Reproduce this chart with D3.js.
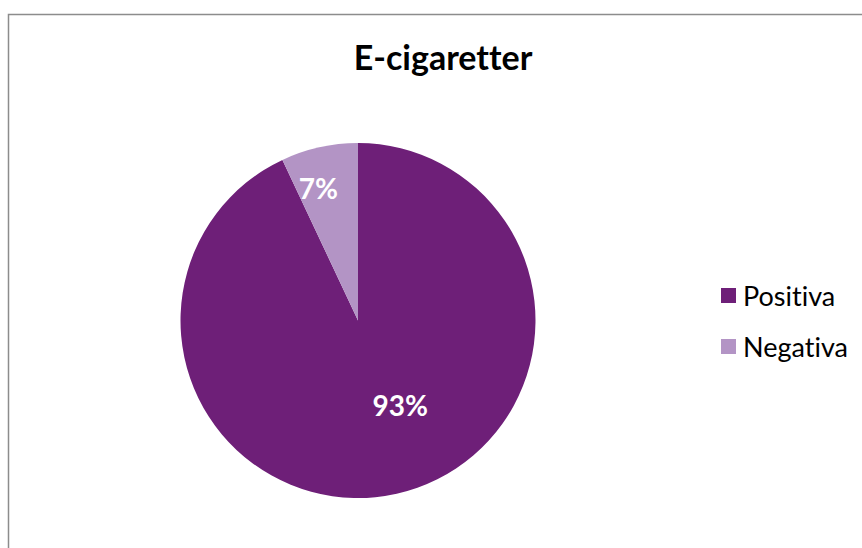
<!DOCTYPE html>
<html>
<head>
<meta charset="utf-8">
<script src="https://cdn.jsdelivr.net/npm/d3@7"></script>
<style>
  body { margin: 0; background: #fff; }
  text { font-family: Lato, "Open Sans", sans-serif; font-variant-ligatures: none; }
</style>
</head>
<body>
<div id="chart"></div>
<script>
// Chart data
const categories = ['Positiva', 'Negativa'];
const values = [93, 7];
const labels = ['93%', '7%'];
const colors = ['#6e1f78', '#b394c5'];

const width = 862, height = 548;
const cx = 358, cy = 320.5, radius = 177.5;

const svg = d3.select('#chart')
    .append('svg')
    .attr('width', width)
    .attr('height', height);

// Chart frame
svg.append('rect')
    .attr('x', 8.5)
    .attr('y', 14.5)
    .attr('width', width + 20)
    .attr('height', height + 20)
    .attr('fill', '#fff')
    .attr('stroke', '#8c8c8c')
    .attr('stroke-width', 1.5);

// Title
svg.append('text')
    .attr('x', 443)
    .attr('y', 70)
    .attr('text-anchor', 'middle')
    .style('font-weight', 'bold')
    .style('font-size', '34px')
    .style('fill', '#000')
    .text('E-cigaretter');

const pie = d3.pie().sort(null).value(d => d);
const arcs = pie(values);
const arc = d3.arc().innerRadius(0).outerRadius(radius);

const g = svg.append('g')
    .attr('transform', `translate(${cx}, ${cy})`);

g.selectAll('.slice')
    .data(arcs)
    .enter()
    .append('path')
    .attr('class', 'slice')
    .attr('d', arc)
    .attr('fill', (d, i) => colors[i]);

// Data labels (best-fit style: radius fraction + small angle nudge)
const labelRadius = [0.53, 0.78];
const labelNudge = [-14, -4]; // degrees
g.selectAll('.pie-label')
    .data(arcs)
    .enter()
    .append('text')
    .attr('class', 'pie-label')
    .attr('transform', (d, i) => {
        const a = (d.startAngle + d.endAngle) / 2 + labelNudge[i] * Math.PI / 180;
        const r = radius * labelRadius[i];
        return `translate(${Math.sin(a) * r}, ${-Math.cos(a) * r})`;
    })
    .attr('text-anchor', 'middle')
    .attr('dominant-baseline', 'central')
    .style('font-weight', 'bold')
    .style('font-size', '28px')
    .style('fill', '#fff')
    .text((d, i) => labels[i]);

// Legend
const legend = svg.append('g')
    .attr('transform', 'translate(721, 288)');

const item = legend.selectAll('.legend-item')
    .data(categories)
    .enter()
    .append('g')
    .attr('class', 'legend-item')
    .attr('transform', (d, i) => `translate(0, ${i * 51})`);

item.append('rect')
    .attr('width', 15)
    .attr('height', 15)
    .attr('fill', (d, i) => colors[i]);

item.append('text')
    .attr('x', 22)
    .attr('y', 7.5)
    .attr('dominant-baseline', 'central')
    .style('font-size', '27px')
    .style('fill', '#000')
    .text(d => d);
</script>
</body>
</html>
